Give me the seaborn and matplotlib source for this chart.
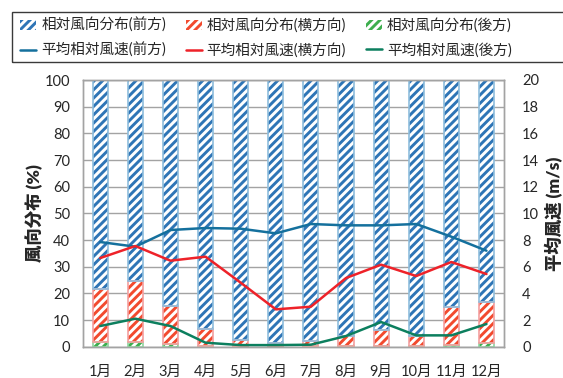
import numpy as np
import pandas as pd
import matplotlib
matplotlib.use("Agg")
import matplotlib.pyplot as plt
import seaborn as sns
from matplotlib.patches import Patch, Rectangle
from matplotlib.lines import Line2D

# ---- data -------------------------------------------------------------
months = ["1月", "2月", "3月", "4月", "5月", "6月",
          "7月", "8月", "9月", "10月", "11月", "12月"]

# relative wind direction distribution (%)
back_pct = [1.7, 1.7, 1.0, 0.3, 0.1, 0.3, 0.2, 0.3, 0.3, 0.3, 0.5, 1.5]
side_pct = [19.8, 23.0, 14.4, 6.5, 2.4, 0.9, 1.9, 3.7, 5.9, 3.7, 14.5, 15.3]
front_pct = [78.5, 75.3, 84.6, 93.2, 97.5, 98.8, 97.9, 96.0, 93.8, 96.0, 85.0, 83.2]

# mean relative wind speed (m/s)
front_spd = [7.85, 7.5, 8.75, 8.9, 8.85, 8.5, 9.2, 9.1, 9.1, 9.2, 8.25, 7.2]
side_spd = [6.65, 7.55, 6.45, 6.75, 4.8, 2.8, 3.0, 5.15, 6.15, 5.3, 6.35, 5.45]
back_spd = [1.55, 2.1, 1.55, 0.3, 0.12, 0.12, 0.15, 0.8, 1.85, 0.85, 0.85, 1.7]

bar_labels = ["相対風向分布(前方)", "相対風向分布(横方向)", "相対風向分布(後方)"]
line_labels = ["平均相対風速(前方)", "平均相対風速(横方向)", "平均相対風速(後方)"]

# ---- style ------------------------------------------------------------
sns.set_theme(style="white")
plt.rcParams["font.family"] = ["Lato", "Noto Sans CJK JP", "DejaVu Sans"]
plt.rcParams["hatch.linewidth"] = 2.1

hatch_cols = ["#2E75B6", "#F24A2E", "#3DAE4E"]
edge_cols = ["#8FBEDD", "#F3A0A0", "#90D3A0"]
line_cols = ["#14709D", "#EE2229", "#0C7F5E"]
grid_col = "#A3A3A3"
text_col = "#262626"

W, H = 563, 378
fig = plt.figure(figsize=(W / 100, H / 100), dpi=100)
ax = fig.add_axes([82.7 / W, 1 - 346.7 / H, (504 - 82.7) / W, (346.7 - 80) / H])

df = pd.DataFrame({"month": months, "back": back_pct, "side": side_pct,
                   "front": front_pct})
bottoms = [np.zeros(len(months)),
           np.array(back_pct),
           np.array(back_pct) + np.array(side_pct)]

# stacked percentage bars: back at the bottom, side above, front on top
for key, bot, hc, ec in zip(["back", "side", "front"], bottoms,
                            hatch_cols[::-1], edge_cols[::-1]):
    sns.barplot(data=df, x="month", y=key, ax=ax, color="white",
                saturation=1, width=0.43, bottom=bot, hatch="////",
                edgecolor=hc, linewidth=0, zorder=2)
    sns.barplot(data=df, x="month", y=key, ax=ax, color=ec, fill=False,
                saturation=1, width=0.43, bottom=bot,
                linewidth=1.2, zorder=3)

ax.set_ylim(0, 100)
ax.set_yticks(range(0, 101, 10))
ax.set_xlim(-0.5, len(months) - 0.5)
ax.yaxis.grid(True, color=grid_col, lw=1.0)
ax.set_axisbelow(True)
for s in ax.spines.values():
    s.set_color(grid_col)
    s.set_linewidth(1.0)
ax.tick_params(axis="y", length=0, pad=9, labelsize=10.5, labelcolor=text_col)
ax.tick_params(axis="x", length=0, pad=13, labelsize=10.5, labelcolor=text_col)
ax.set_xlabel("")
ax.set_ylabel("風向分布 (%)", fontsize=12.5, fontweight="heavy", color=text_col,
              labelpad=1)

# mean speed lines on the secondary axis
ax2 = ax.twinx()
pos = np.arange(len(months))
for vals, c in zip([front_spd, side_spd, back_spd], line_cols):
    sns.lineplot(x=pos, y=vals, ax=ax2, color=c, lw=1.8)
ax2.set_ylim(0, 20)
ax2.set_yticks(range(0, 21, 2))
ax2.set_xlim(-0.5, len(months) - 0.5)
for s in ax2.spines.values():
    s.set_color(grid_col)
    s.set_linewidth(1.0)
ax2.tick_params(axis="y", length=0, pad=13, labelsize=10.5, labelcolor=text_col)
ax2.set_xlabel("")
ax2.set_ylabel("平均風速 (m/s)", fontsize=12.5, fontweight="heavy", color=text_col,
               rotation=90, labelpad=4)

# legend
handles = []
labels = []
for i in range(3):
    handles.append(Patch(facecolor="white", edgecolor=hatch_cols[i], hatch="////",
                         linewidth=0))
    labels.append(bar_labels[i])
    handles.append(Line2D([], [], color=line_cols[i], lw=1.8))
    labels.append(line_labels[i])
fig.legend(handles, labels, ncol=3, loc="upper left",
           bbox_to_anchor=(20 / W, 1 - 18 / H), frameon=False,
           fontsize=10.5, handlelength=1.1, handleheight=0.6,
           handletextpad=0.35, columnspacing=1.35, labelspacing=0.65,
           borderpad=0, borderaxespad=0)
fig.patches.append(Rectangle((12 / W, 1 - 62 / H), 1.2, 50 / H,
                             transform=fig.transFigure, fill=False,
                             edgecolor="#3a3a3a", lw=1.0))

fig.savefig("out.png", dpi=100)
